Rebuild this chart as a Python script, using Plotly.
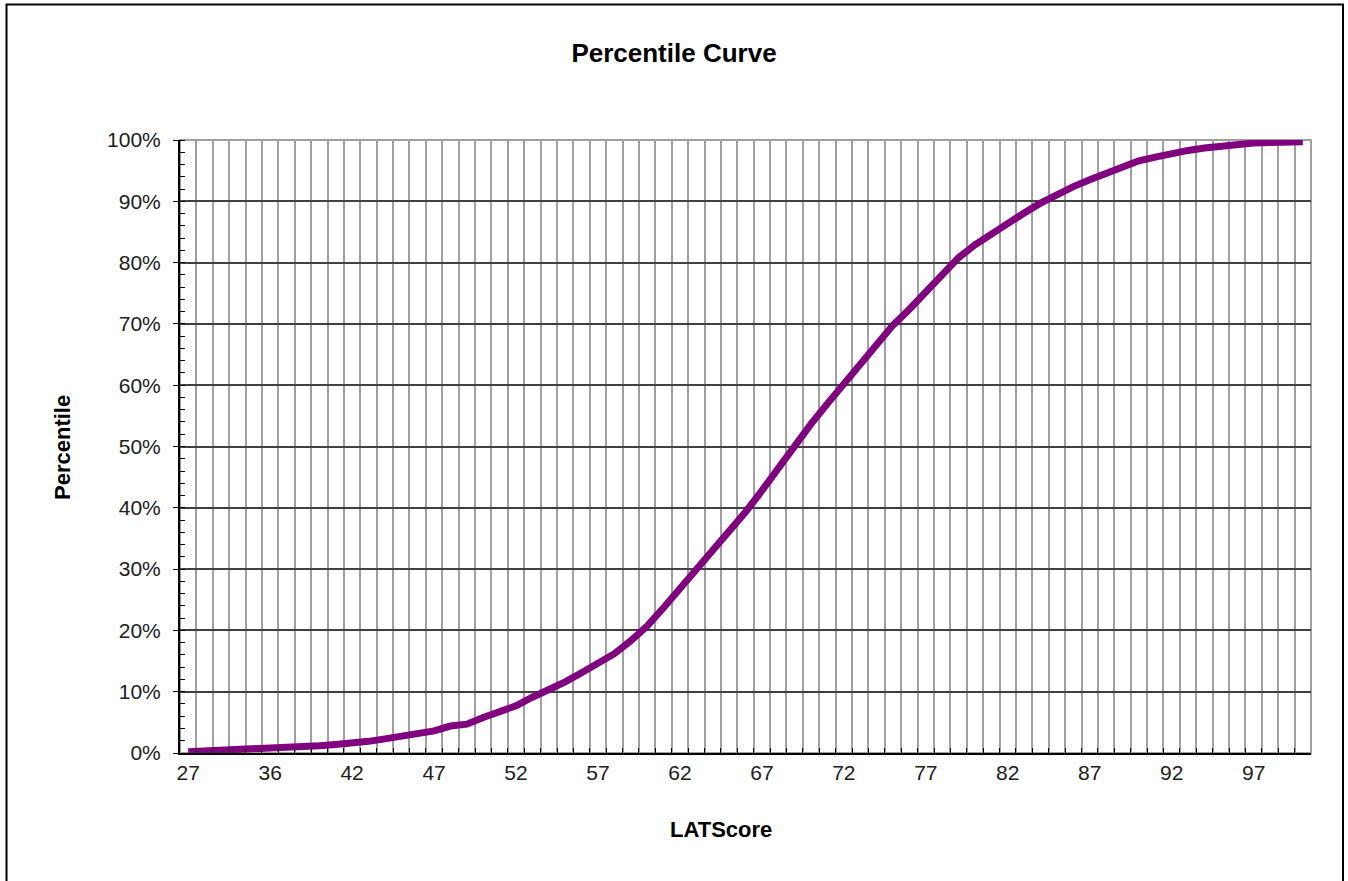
import plotly.graph_objects as go

# LAT score categories (x axis, category order)
scores = [27, 29, 31, 33, 35, 36, 37, 38, 39, 41, 42,
          43, 44, 45, 46, 47, 48, 49, 50, 51, 52,
          53, 54, 55, 56, 57, 58, 59, 60, 61, 62,
          63, 64, 65, 66, 67, 68, 69, 70, 71, 72,
          73, 74, 75, 76, 77, 78, 79, 80, 81, 82,
          83, 84, 85, 86, 87, 88, 89, 90, 91, 92,
          93, 94, 95, 96, 97, 98, 99, 100]

# cumulative percentile (fraction)
percentile = [0.002, 0.003, 0.004, 0.005, 0.006, 0.008, 0.010, 0.011, 0.012, 0.014, 0.016,
              0.019, 0.023, 0.027, 0.031, 0.036, 0.044, 0.047, 0.058, 0.068, 0.077,
              0.091, 0.103, 0.116, 0.131, 0.145, 0.162, 0.183, 0.207, 0.237, 0.268,
              0.298, 0.328, 0.361, 0.393, 0.428, 0.465, 0.502, 0.537, 0.570, 0.602,
              0.636, 0.668, 0.698, 0.724, 0.752, 0.781, 0.808, 0.829, 0.847, 0.864,
              0.881, 0.897, 0.912, 0.924, 0.935, 0.946, 0.957, 0.966, 0.972, 0.978,
              0.983, 0.987, 0.990, 0.992, 0.995, 0.996, 0.996, 0.997]

# labelled categories on the x axis
x_labels = [27, 36, 42, 47, 52, 57, 62, 67, 72, 77, 82, 87, 92, 97]

title_text = "Percentile Curve"
x_title = "LATScore"
y_title = "Percentile"

cats = [str(s) for s in scores]
ticktext = [str(s) if s in x_labels else "" for s in scores]

FONT = "Liberation Sans, Arial, sans-serif"

fig = go.Figure()
fig.add_trace(go.Scatter(
    x=cats, y=percentile, mode="lines",
    line=dict(color="#800080", width=7),
    hoverinfo="x+y", showlegend=False,
))

W, H = 1348, 881
ML, MR, MT, MB = 180, 37, 140, 128
PW = W - ML - MR
PH = H - MT - MB


def px2x(px):
    return (px - ML) / PW


def py2y(py):
    return (H - MB - py) / PH


fig.update_layout(
    width=W, height=H,
    margin=dict(l=ML, r=MR, t=MT, b=MB),
    paper_bgcolor="white", plot_bgcolor="white",
    font=dict(family=FONT, color="black"),
    title=dict(text="<b>" + title_text + "</b>", x=0.5, xref="container",
               y=1 - 53 / H, yref="container", xanchor="center", yanchor="middle",
               font=dict(size=26, family=FONT, color="black")),
    xaxis=dict(
        type="category",
        categoryorder="array", categoryarray=cats,
        tickmode="array", tickvals=cats, ticktext=ticktext,
        tickson="boundaries", tickangle=0,
        ticks="inside", ticklen=5, tickcolor="black", tickwidth=1,
        showgrid=True, gridcolor="#a0a0a0", gridwidth=1.5,
        showline=True, linecolor="black", linewidth=2,
        tickfont=dict(size=21, family=FONT, color="#202020"),
        range=[-0.5, len(cats) - 0.5],
        zeroline=False,
    ),
    yaxis=dict(
        range=[0, 1], dtick=0.1, tick0=0, tickformat=".0%",
        ticks="outside", ticklen=5, tickcolor="black", tickwidth=1,
        showgrid=True, gridcolor="#404040", gridwidth=1.5,
        showline=True, linecolor="black", linewidth=2,
        tickfont=dict(size=21, family=FONT, color="#202020"),
        ticklabelstandoff=8,
        minor=dict(dtick=0.02, tick0=0, ticks="inside", ticklen=5,
                   tickcolor="black", showgrid=False),
        zeroline=False,
    ),
    shapes=[
        # plot area border
        dict(type="rect", xref="paper", yref="paper", x0=0, x1=1, y0=0, y1=1,
             line=dict(color="#a0a0a0", width=2), layer="between"),
        # outer chart border
        dict(type="rect", xref="paper", yref="paper",
             x0=px2x(6.5), x1=px2x(1343), y0=py2y(895), y1=py2y(4.5),
             line=dict(color="black", width=2), layer="above"),
    ],
    annotations=[
        dict(text="<b>" + x_title + "</b>", xref="paper", yref="paper",
             x=px2x(721), y=py2y(829), showarrow=False,
             xanchor="center", yanchor="middle",
             font=dict(size=22, family=FONT, color="black")),
        dict(text="<b>" + y_title + "</b>", xref="paper", yref="paper",
             x=px2x(62), y=py2y(448), showarrow=False, textangle=-90,
             xanchor="center", yanchor="middle",
             font=dict(size=22, family=FONT, color="black")),
    ],
)

fig.write_html("out.html", config={"displayModeBar": False},
               post_script="document.body.style.margin='0';document.body.style.overflow='hidden';")
